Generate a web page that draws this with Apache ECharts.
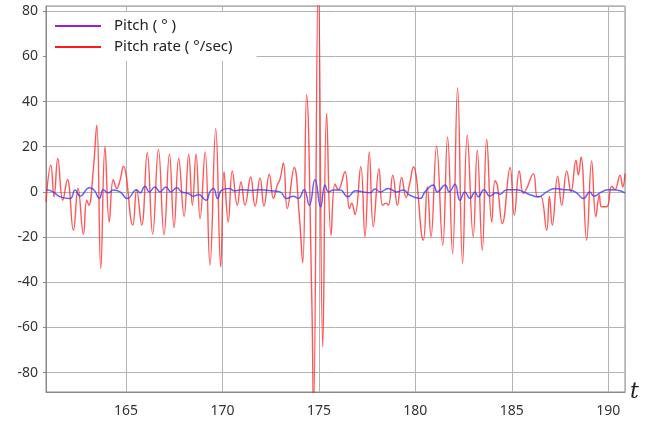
<!DOCTYPE html>
<html>
<head>
<meta charset="utf-8">
<script src="https://cdn.jsdelivr.net/npm/echarts@6/dist/echarts.min.js"></script>
<style>
  html, body { margin: 0; padding: 0; background: #fff; }
  #chart { width: 656px; height: 423px; }
</style>
</head>
<body>
<div id="chart"></div>
<script>
// ======================
// DATA
// ======================

const rateT = [
    160.85, 161.10, 161.27, 161.46, 161.72, 161.96, 162.27, 162.51, 162.79, 162.96,
    163.07, 163.30, 163.48, 163.69, 163.91, 164.13, 164.34, 164.52, 164.69, 164.86,
    165.35, 165.55, 165.81, 166.10, 166.38, 166.68, 166.97, 167.25, 167.49, 167.73,
    168.01, 168.25, 168.44, 168.63, 168.84, 169.10, 169.35, 169.65, 169.91, 170.08,
    170.30, 170.51, 170.77, 170.96, 171.17, 171.46, 171.69, 171.95, 172.15, 172.43,
    172.64, 172.84, 172.98, 173.16, 173.36, 173.72, 173.98, 174.16, 174.36, 174.63,
    174.72, 174.97, 175.20, 175.40, 175.63, 175.83, 176.00, 176.35, 176.58, 176.70,
    176.87, 177.17, 177.39, 177.61, 177.82, 178.12, 178.30, 178.48, 178.60, 178.83,
    179.07, 179.29, 179.52, 179.69, 179.90, 180.41, 180.62, 180.81, 181.10, 181.42,
    181.67, 181.93, 182.19, 182.45, 182.69, 183.00, 183.21, 183.47, 183.70, 183.96,
    184.13, 184.25, 184.51, 184.91, 185.13, 185.39, 185.60, 185.77, 186.12, 186.33,
    186.50, 186.81, 186.95, 187.10, 187.38, 187.59, 187.85, 188.07, 188.33, 188.45,
    188.59, 188.88, 189.14, 189.36, 189.54, 189.66, 189.92, 190.18, 190.35, 190.61,
    190.75, 190.87
];
const rateV = [
    -4.4, 11.8, -2.2, 14.8, -3.7, 5.5, -17, 1.5, -18.7, -3.7,
    -5.9, 9.6, 29.5, -33.9, 19.9, -13.3, 5.5, 1.5, 5.2, 11.4,
    -14.7, 0.8, -14.7, 17.3, -18.7, 18.8, -19, 16.7, -15.8, 14.8,
    -10.8, 16.7, -5.9, 16.7, -11.8, 17.7, -32.4, 28, -33.2, 8.9,
    -13.3, 9.3, -5.9, 4.4, -5.9, 6.6, -6.3, 6.2, -6.3, 7.8,
    -2.9, 3, 5.5, 12.8, -7.4, 10.8, -10.3, -31.4, 43, -47,
    -98, 95, -68.6, 34.7, -19.2, 3.5, 1, 8.9, -7.4, -5,
    -10, 11.1, -19.9, 17.7, -15.5, 10.3, -5.9, -5, -5.9, 7.4,
    -5.9, 6.4, -2.5, 3, 11.1, -21.4, 2.2, -19.9, 20.2, -23.6,
    24.3, -27.3, 46, -31.7, 25.1, -19.9, 18.5, -25.8, 23.2, -13.3,
    4.9, 3, -14, 10.8, -10.3, 9.3, -0.7, 1.5, 8.1, -2.2,
    -2, -17, -2, -14.7, 6.9, -5.9, 9.3, 0, 14, 7.5,
    15.5, -21.4, 13.7, -11, -1.5, -6.6, -6.6, 2.5, 1, 7.4,
    2.2, 8.1
];

const pitchT = [
    160.85, 161.23, 161.58, 162.10, 162.36, 162.62, 163.10, 163.34, 163.62, 163.82,
    164.08, 164.34, 164.69, 165.07, 165.55, 165.73, 165.98, 166.21, 166.50, 166.76,
    167.07, 167.32, 167.63, 167.88, 168.23, 168.49, 168.75, 169.15, 169.35, 169.53,
    169.75, 169.96, 170.36, 170.60, 171.00, 171.50, 172.00, 172.50, 172.98, 173.33,
    173.67, 173.93, 174.23, 174.50, 174.80, 175.09, 175.32, 175.50, 175.75, 176.10,
    176.50, 176.90, 177.30, 177.65, 177.91, 178.17, 178.60, 179.04, 179.38, 179.72,
    180.24, 180.50, 180.93, 181.14, 181.54, 181.76, 182.05, 182.31, 182.57, 182.83,
    183.09, 183.26, 183.56, 183.87, 184.18, 184.39, 184.74, 185.25, 185.60, 186.03,
    186.37, 186.81, 187.24, 187.67, 188.02, 188.36, 188.71, 189.05, 189.26, 189.66,
    190.00, 190.44, 190.87
];
const pitchV = [
    1.0, 0, -2.2, -2.9, 0.8, -1.9, 1.8, 0.8, -2.9, 1.0,
    -0.4, 0.8, 0, -2.9, 1.0, -0.4, 2.5, 0, 2.2, 0,
    2.2, 0, 1.8, 0, -0.7, -1.9, -1.2, -3.7, 0, 1.5,
    -2.9, 0.8, 1.5, 0.5, 1.0, 0.6, 1.0, 0.5, 0, -2.9,
    -1.9, -2.9, 1.0, -5.9, 5.5, -6.6, 3.0, 0, 0.8, 0.8,
    -2.2, 0.5, 0, -0.4, 1.3, 0, 1.5, 0, 0.8, -1.5,
    -2.9, 0, 3.0, 0, 3.0, 0, 3.4, -3.7, 0, -2.9,
    0, -2.2, 1.0, -1.9, -0.4, -1.0, 1.0, 1.0, 0, -1.5,
    -2.2, 0, 1.5, 1.0, 0.8, -0.4, -2.9, 0, -1.9, 0,
    1.0, 0.8, -0.4
];

const seriesNames = ['Pitch ( ° )', 'Pitch rate ( °/sec)'];

// ======================
// CHART
// ======================

const chart = echarts.init(document.getElementById('chart'), null, { renderer: 'canvas' });

const zip = (xs, ys) => xs.map((x, i) => [x, ys[i]]);

const labelStyle = {
    color: '#333',
    fontSize: 14,
    fontFamily: 'Noto Sans, sans-serif',
};

chart.setOption({
    animation: false,
    grid: {
        left: 46,
        right: 31,
        top: 6,
        bottom: 31,
        show: true,
        borderColor: '#8a8a8a',
        borderWidth: 1,
    },
    legend: {
        orient: 'vertical',
        left: 47,
        top: 12,
        padding: [5, 24, 5, 8],
        itemGap: 3,
        itemWidth: 46,
        itemHeight: 2,
        backgroundColor: '#fff',
        textStyle: {
            color: '#222',
            fontSize: 15,
            lineHeight: 18,
            fontFamily: 'Noto Sans, sans-serif',
            padding: [0, 0, 0, 8],
        },
        data: [
            { name: seriesNames[0], icon: 'rect', itemStyle: { color: '#9a1ed8' } },
            { name: seriesNames[1], icon: 'rect', itemStyle: { color: '#ff1a1a' } },
        ],
    },
    xAxis: {
        type: 'value',
        min: 160.85,
        max: 190.87,
        splitNumber: 6,
        name: 't',
        nameLocation: 'end',
        nameGap: 5,
        nameTextStyle: {
            color: '#222',
            fontSize: 22,
            fontStyle: 'italic',
            fontFamily: 'DejaVu Serif, serif',
            verticalAlign: 'middle',
            padding: [0, 0, -4, 0],
        },
        axisLine: { show: true, onZero: false, lineStyle: { color: '#8a8a8a' } },
        axisTick: { show: false },
        axisLabel: { ...labelStyle, margin: 12, showMinLabel: false, showMaxLabel: false },
        splitLine: { show: true, lineStyle: { color: '#b4b4b4', width: 1 } },
    },
    yAxis: {
        type: 'value',
        min: -88.6,
        max: 82.3,
        splitNumber: 8,
        axisLine: { show: true, onZero: false, lineStyle: { color: '#8a8a8a' } },
        axisTick: { show: true, length: 3, lineStyle: { color: '#8a8a8a' } },
        axisLabel: { ...labelStyle, margin: 8, showMinLabel: false, showMaxLabel: false },
        splitLine: { show: true, lineStyle: { color: '#b4b4b4', width: 1 } },
    },
    series: [
        {
            name: seriesNames[1],
            type: 'line',
            data: zip(rateT, rateV),
            smooth: 0.45,
            symbol: 'none',
            z: 2,
            lineStyle: { color: 'rgba(255,30,30,0.75)', width: 1.4 },
            itemStyle: { color: '#ff1a1a' },
        },
        {
            name: seriesNames[0],
            type: 'line',
            data: zip(pitchT, pitchV),
            smooth: 0.5,
            symbol: 'none',
            z: 3,
            lineStyle: { color: 'rgba(60,60,250,0.8)', width: 1.5 },
            itemStyle: { color: '#9a1ed8' },
        },
    ],
});
</script>
</body>
</html>
